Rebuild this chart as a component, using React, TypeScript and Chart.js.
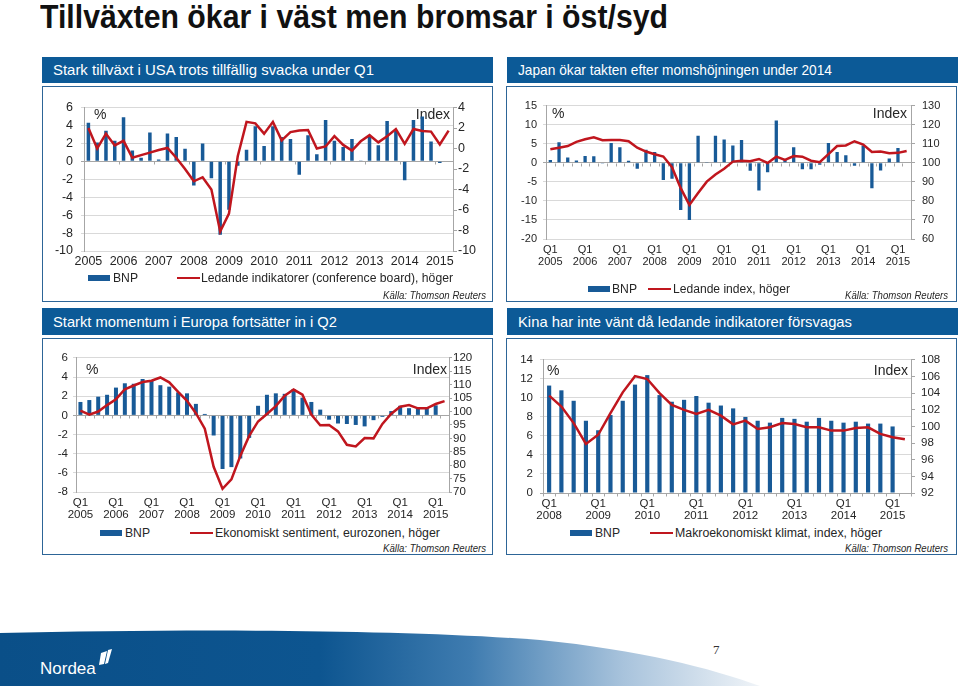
import React, { useEffect, useLayoutEffect, useRef } from 'react';
import { Chart, registerables } from 'chart.js';

Chart.register(...registerables);

const SANS = '"Liberation Sans", Arial, Helvetica, sans-serif';
const BAR_BLUE = '#185a97';
const LINE_RED = '#c0161e';
const HEADER_BLUE = '#0c5a97';
const BOX_BORDER = '#2d6597';
const GRID = '#d9d9d9';
const AXIS = '#a6a6a6';
const TEXT = '#262626';

Chart.defaults.font.family = SANS;

function quarterCategories(startYear: number, count: number): string[] {
  const out: string[] = [];
  for (let i = 0; i < count; i++) out.push(`Q${(i % 4) + 1} ${startYear + Math.floor(i / 4)}`);
  return out;
}

// ---------- USA ----------
const usYears = ['2005', '2006', '2007', '2008', '2009', '2010', '2011', '2012', '2013', '2014', '2015'];
const usCategories = quarterCategories(2005, 42);
const usGdp = [4.3, 2.1, 3.4, 2.3, 4.9, 1.2, 0.4, 3.2, 0.2, 3.1, 2.7, 1.4, -2.7, 2.0, -1.9, -8.2, -5.4, -0.5, 1.3, 3.9, 1.7, 3.9, 2.7, 2.5, -1.5, 2.9, 0.8, 4.6, 2.3, 1.6, 2.5, 0.1, 2.7, 1.8, 4.5, 3.5, -2.1, 4.6, 5.0, 2.2, -0.2];
const usLeading = [2.0, 0.0, 1.45, 0.3, 0.75, -0.9, -0.65, -0.4, -0.15, 0.05, -0.9, -2.0, -3.2, -2.8, -4.0, -8.1, -6.35, -0.75, 2.6, 2.45, 1.45, 2.6, 0.8, 1.6, 1.75, 1.8, 0.0, 0.2, 1.2, 0.35, -0.2, 0.7, 1.3, 0.6, 1.2, 1.9, 0.45, 1.9, 1.7, 1.65, 0.4, 1.75];

// ---------- Japan ----------
const jpYears = ['2005', '2006', '2007', '2008', '2009', '2010', '2011', '2012', '2013', '2014', '2015'];
const jpCategories = quarterCategories(2005, 42);
const jpGdp = [0.7, 5.4, 1.4, 0.6, 1.8, 1.7, -0.2, 5.2, 4.1, 0.5, -1.6, 3.4, 2.8, -4.5, -4.2, -12.4, -15.0, 7.1, 0.1, 7.1, 6.1, 4.5, 6.0, -2.1, -7.3, -2.5, 11.1, 0.8, 4.1, -1.7, -1.7, -0.5, 5.2, 2.8, 2.0, -0.8, 4.5, -6.7, -2.0, 1.1, 3.9];
const jpLeading = [107.1, 107.9, 108.8, 111.0, 112.3, 113.4, 111.8, 112.0, 112.0, 111.3, 107.9, 105.9, 104.5, 103.3, 97.7, 86.7, 77.9, 84.1, 90.1, 93.8, 96.9, 100.6, 101.0, 100.8, 102.0, 99.9, 103.2, 101.5, 103.5, 103.2, 101.1, 100.3, 104.5, 108.8, 109.1, 111.3, 109.6, 105.7, 105.9, 105.0, 105.2, 106.2];

// ---------- Eurozone ----------
const euYears = ['2005', '2006', '2007', '2008', '2009', '2010', '2011', '2012', '2013', '2014', '2015'];
const euCategories = quarterCategories(2005, 42);
const euGdp = [1.4, 1.6, 1.95, 2.15, 2.9, 3.35, 3.3, 3.8, 3.6, 3.15, 3.0, 2.4, 2.3, 1.2, 0.15, -2.1, -5.6, -5.4, -4.5, -2.35, 1.0, 2.15, 2.3, 2.25, 2.75, 1.85, 1.4, 0.6, -0.45, -0.85, -0.9, -1.0, -1.15, -0.5, -0.15, 0.45, 1.0, 0.75, 0.75, 0.85, 1.05];
const euSentiment = [100.3, 98.8, 100.0, 102.4, 104.6, 108.3, 109.7, 111.0, 111.5, 112.7, 110.9, 107.3, 104.0, 99.4, 93.6, 79.4, 71.2, 74.7, 83.4, 90.9, 96.3, 99.1, 102.0, 105.9, 108.2, 106.3, 98.9, 94.9, 95.0, 92.6, 87.6, 87.0, 90.1, 90.0, 95.4, 99.2, 101.8, 102.4, 101.2, 101.2, 102.8, 103.9];

// ---------- China ----------
const cnYears = ['2008', '2009', '2010', '2011', '2012', '2013', '2014', '2015'];
const cnCategories = quarterCategories(2008, 30);
const cnGdp = [11.3, 10.8, 9.7, 7.6, 6.6, 8.2, 9.7, 11.4, 12.4, 10.3, 9.6, 9.8, 10.2, 9.5, 9.2, 8.9, 8.0, 7.6, 7.4, 7.9, 7.8, 7.5, 7.9, 7.6, 7.4, 7.5, 7.3, 7.3, 7.0];
const cnClimate = [103.7, 102.4, 100.4, 97.9, 99.0, 101.6, 104.1, 106.05, 105.7, 104.0, 102.6, 102.0, 101.5, 102.0, 101.3, 100.25, 100.7, 99.7, 99.9, 100.4, 100.3, 99.9, 99.9, 99.5, 99.5, 99.8, 99.9, 99.1, 98.7, 98.45];

const decorPlugin = {
  id: 'decor',
  beforeDatasetsDraw(chart: any, _args: any, opts: any) {
    const { ctx, chartArea, scales } = chart;
    ctx.save();
    if (opts.zeroEvery) {
      const x = scales.x;
      const y = scales.y;
      const y0 = Math.round(y.getPixelForValue(0)) + 0.5;
      const step = x.getPixelForValue(1) - x.getPixelForValue(0);
      const n = chart.data.labels.length;
      ctx.strokeStyle = AXIS;
      ctx.lineWidth = 1;
      ctx.beginPath();
      for (let i = 0; i <= n; i += opts.zeroEvery) {
        const px = Math.round(x.getPixelForValue(0) + (i - 0.5) * step) + 0.5;
        ctx.moveTo(px, y0);
        ctx.lineTo(px, y0 + opts.zeroLen);
      }
      ctx.stroke();
    }
    ctx.font = `${opts.size}px ${SANS}`;
    ctx.fillStyle = TEXT;
    ctx.textBaseline = 'middle';
    ctx.textAlign = 'left';
    ctx.fillText('%', chartArea.left + opts.pctDx, chartArea.top + opts.dy);
    ctx.textAlign = 'right';
    ctx.fillText('Index', chartArea.right - opts.idxDx, chartArea.top + opts.dy);
    ctx.restore();
  },
};

type AxisSpec = { min: number; max: number; step: number; width: number; pad: number; tick: number };
type ChartSpec = {
  left: number; top: number; width: number; height: number;
  categories: string[]; bars: number[]; line: number[];
  tickLabel: (k: number) => string | string[];
  yl: AxisSpec; yr: AxisSpec;
  padTop: number; xHeight: number; xPad: number; font: number; xLineHeight: number;
  barPct: number;
  decor: { pctDx: number; idxDx: number; dy: number; size: number; zeroEvery: number; zeroLen: number };
};

function ChartPanel({ spec }: { spec: ChartSpec }) {
  const ref = useRef<HTMLCanvasElement>(null);
  useEffect(() => {
    if (!ref.current) return;
    const chart = new Chart(ref.current, {
      type: 'bar',
      data: {
        labels: spec.categories,
        datasets: [
          {
            type: 'line', label: 'line', data: spec.line, yAxisID: 'y1',
            borderColor: LINE_RED, backgroundColor: LINE_RED, borderWidth: 2.5,
            pointRadius: 0, tension: 0, order: 0,
          } as any,
          {
            type: 'bar', label: 'BNP', data: spec.bars, yAxisID: 'y',
            backgroundColor: BAR_BLUE, barPercentage: spec.barPct, categoryPercentage: 1, order: 1,
          } as any,
        ],
      },
      options: {
        responsive: false,
        animation: false,
        devicePixelRatio: 1,
        layout: { padding: { top: spec.padTop, left: 0, right: 0, bottom: 0 } },
        plugins: { legend: { display: false }, tooltip: { enabled: false }, decor: spec.decor } as any,
        scales: {
          x: {
            type: 'category', offset: true,
            grid: { display: false, drawTicks: false, tickLength: 0 }, border: { display: false },
            ticks: {
              autoSkip: false, maxRotation: 0, minRotation: 0, padding: spec.xPad, color: TEXT,
              font: { size: spec.font, lineHeight: spec.xLineHeight },
              callback: (_v: any, i: number) => (i % 4 === 0 ? spec.tickLabel(i / 4) : ''),
            },
            afterFit: (s: any) => { s.height = spec.xHeight; },
          } as any,
          y: {
            position: 'left', min: spec.yl.min, max: spec.yl.max,
            ticks: { autoSkip: false, stepSize: spec.yl.step, padding: spec.yl.pad, color: TEXT, font: { size: spec.font } },
            grid: { color: (c: any) => (c.tick && c.tick.value === 0 ? AXIS : GRID), tickLength: spec.yl.tick },
            border: { display: true, color: AXIS },
            afterFit: (s: any) => { s.width = spec.yl.width; },
          } as any,
          y1: {
            position: 'right', min: spec.yr.min, max: spec.yr.max,
            ticks: { autoSkip: false, stepSize: spec.yr.step, padding: spec.yr.pad, color: TEXT, font: { size: spec.font } },
            grid: { drawOnChartArea: false, color: AXIS, tickLength: spec.yr.tick },
            border: { display: true, color: AXIS },
            afterFit: (s: any) => { s.width = spec.yr.width; },
          } as any,
        },
      },
      plugins: [decorPlugin as any],
    });
    return () => chart.destroy();
  }, [spec]);
  return (
    <canvas
      ref={ref}
      width={spec.width}
      height={spec.height}
      style={{ position: 'absolute', left: spec.left, top: spec.top, width: spec.width, height: spec.height }}
    />
  );
}

const usSpec: ChartSpec = {
  left: 50, top: 92, width: 440, height: 180,
  categories: usCategories, bars: usGdp, line: usLeading,
  tickLabel: (k) => usYears[k],
  yl: { min: -10, max: 6, step: 2, width: 34, pad: 8, tick: 3 },
  yr: { min: -10, max: 4, step: 2, width: 37, pad: 1, tick: 4 },
  padTop: 9, xHeight: 21, xPad: 4, font: 12.5, xLineHeight: 1.1, barPct: 0.4,
  decor: { pctDx: 10, idxDx: 3, dy: 8, size: 14, zeroEvery: 4, zeroLen: 3 },
};

const jpSpec: ChartSpec = {
  left: 510, top: 92, width: 445, height: 185,
  categories: jpCategories, bars: jpGdp, line: jpLeading,
  tickLabel: (k) => ['Q1', jpYears[k]],
  yl: { min: -20, max: 15, step: 5, width: 36, pad: 6, tick: 3 },
  yr: { min: 60, max: 130, step: 10, width: 44, pad: 7, tick: 4 },
  padTop: 10, xHeight: 38, xPad: 5, font: 11, xLineHeight: 1.1, barPct: 0.38,
  decor: { pctDx: 6, idxDx: 4, dy: 9, size: 14, zeroEvery: 1, zeroLen: 3 },
};

const euSpec: ChartSpec = {
  left: 50, top: 346, width: 440, height: 180,
  categories: euCategories, bars: euGdp, line: euSentiment,
  tickLabel: (k) => ['Q1', euYears[k]],
  yl: { min: -8, max: 6, step: 2, width: 26, pad: 5, tick: 3 },
  yr: { min: 70, max: 120, step: 5, width: 41, pad: 1, tick: 3 },
  padTop: 9, xHeight: 34, xPad: 5, font: 11.5, xLineHeight: 1.05, barPct: 0.45,
  decor: { pctDx: 10, idxDx: 2, dy: 12, size: 14, zeroEvery: 1, zeroLen: 3 },
};

const cnSpec: ChartSpec = {
  left: 510, top: 346, width: 445, height: 180,
  categories: cnCategories, bars: cnGdp, line: cnClimate,
  tickLabel: (k) => ['Q1', cnYears[k]],
  yl: { min: 0, max: 14, step: 2, width: 33, pad: 7, tick: 3 },
  yr: { min: 92, max: 108, step: 2, width: 44, pad: 6, tick: 4 },
  padTop: 9, xHeight: 33, xPad: 5, font: 11.5, xLineHeight: 1.05, barPct: 0.34,
  decor: { pctDx: 4, idxDx: 3, dy: 11, size: 14, zeroEvery: 1, zeroLen: 3 },
};

function FitText(props: {
  text: string; left: number; cy: number; width: number; size: number;
  weight?: number; italic?: boolean; color?: string;
}) {
  const { text, left, cy, width, size, weight = 400, italic = false, color = TEXT } = props;
  const ref = useRef<HTMLSpanElement>(null);
  useLayoutEffect(() => {
    const el = ref.current;
    if (!el) return;
    const fit = () => {
      el.style.transform = 'none';
      const w = el.getBoundingClientRect().width;
      if (w > 0) el.style.transform = `scaleX(${width / w})`;
    };
    fit();
    const fonts = (document as any).fonts;
    if (fonts && fonts.ready) fonts.ready.then(fit);
  }, [text, width]);
  const h = Math.round(size * 1.2);
  return (
    <span
      ref={ref}
      style={{
        position: 'absolute', left, top: cy - h / 2, height: h, lineHeight: `${h}px`,
        fontSize: size, fontWeight: weight, fontStyle: italic ? 'italic' : 'normal',
        fontFamily: SANS, color, whiteSpace: 'nowrap', transformOrigin: 'left center',
      }}
    >
      {text}
    </span>
  );
}

function Header({ left, top, height, text, textWidth }: { left: number; top: number; height: number; text: string; textWidth: number }) {
  return (
    <>
      <div style={{ position: 'absolute', left, top, width: 451, height, background: HEADER_BLUE }} />
      <FitText text={text} left={left + 11} cy={top + height / 2} width={textWidth} size={15} color="#ffffff" />
    </>
  );
}

function Box({ left, top, height }: { left: number; top: number; height: number }) {
  return (
    <div style={{ position: 'absolute', left, top, width: 451, height, border: `1px solid ${BOX_BORDER}`, boxSizing: 'border-box' }} />
  );
}

function Legend(p: { cy: number; blueX: number; bnpX: number; redX: number; textX: number; text: string; textWidth: number }) {
  return (
    <>
      <div style={{ position: 'absolute', left: p.blueX, top: p.cy - 3, width: 22, height: 6, background: BAR_BLUE }} />
      <FitText text="BNP" left={p.bnpX} cy={p.cy} width={25} size={12} />
      <div style={{ position: 'absolute', left: p.redX, top: p.cy - 1, width: 23, height: 2, background: LINE_RED }} />
      <FitText text={p.text} left={p.textX} cy={p.cy} width={p.textWidth} size={12} />
    </>
  );
}

function Source({ right, cy }: { right: number; cy: number }) {
  return <FitText text="Källa: Thomson Reuters" left={right - 103} cy={cy} width={103} size={11} italic />;
}

export default function App() {
  return (
    <div style={{ position: 'absolute', left: 0, top: 0, width: 960, height: 686, overflow: 'hidden', background: '#ffffff', fontFamily: SANS }}>
      <FitText text="Tillväxten ökar i väst men bromsar i öst/syd" left={40} cy={17} width={628} size={33} weight={700} color="#111111" />

      <Header left={42} top={57} height={26} text="Stark tillväxt i USA trots tillfällig svacka under Q1" textWidth={321} />
      <Header left={507} top={57} height={26} text="Japan ökar takten efter momshöjningen under 2014" textWidth={314} />
      <Header left={42} top={308} height={27} text="Starkt momentum i Europa fortsätter in i Q2" textWidth={284} />
      <Header left={507} top={308} height={27} text="Kina har inte vänt då ledande indikatorer försvagas" textWidth={334} />

      <Box left={42} top={86} height={216} />
      <Box left={506} top={86} height={216} />
      <Box left={42} top={338} height={217} />
      <Box left={506} top={338} height={217} />

      <ChartPanel spec={usSpec} />
      <ChartPanel spec={jpSpec} />
      <ChartPanel spec={euSpec} />
      <ChartPanel spec={cnSpec} />

      <Legend cy={278} blueX={88} bnpX={113} redX={177} textX={201} text="Ledande indikatorer (conference board), höger" textWidth={252} />
      <Legend cy={289} blueX={588} bnpX={612} redX={648} textX={673} text="Ledande index, höger" textWidth={117} />
      <Legend cy={533} blueX={100} bnpX={125} redX={190} textX={215} text="Ekonomiskt sentiment, eurozonen, höger" textWidth={225} />
      <Legend cy={533} blueX={570} bnpX={595} redX={650} textX={675} text="Makroekonomiskt klimat, index, höger" textWidth={207} />

      <Source right={486} cy={295} />
      <Source right={948} cy={295} />
      <Source right={486} cy={548} />
      <Source right={948} cy={548} />

      <svg style={{ position: 'absolute', left: 0, top: 620 }} width={960} height={66}>
        <defs>
          <linearGradient id="nordeaBand" x1="0" y1="0" x2="760" y2="0" gradientUnits="userSpaceOnUse">
            <stop offset="0" stopColor="#0a4f88" />
            <stop offset="0.42" stopColor="#0d5590" />
            <stop offset="0.62" stopColor="#3f7cb0" />
            <stop offset="0.82" stopColor="#a8c3dc" />
            <stop offset="1" stopColor="#f0f4f8" />
          </linearGradient>
        </defs>
        <path d="M0,13 C180,9 400,9 540,20 C640,30 710,48 760,66 L0,66 Z" fill="url(#nordeaBand)" />
        <text x={40} y={54} fill="#ffffff" fontSize={17} fontFamily={SANS}>Nordea</text>
        <path d="M101,33 L107,31 L104,44 L99,45 Z" fill="#ffffff" />
        <path d="M108,30 L112,29 L108,43 L105,44 Z" fill="#ffffff" />
      </svg>
      <div style={{ position: 'absolute', left: 713, top: 642, fontFamily: '"Liberation Serif", "DejaVu Serif", serif', fontSize: 13, color: '#333' }}>7</div>
    </div>
  );
}
